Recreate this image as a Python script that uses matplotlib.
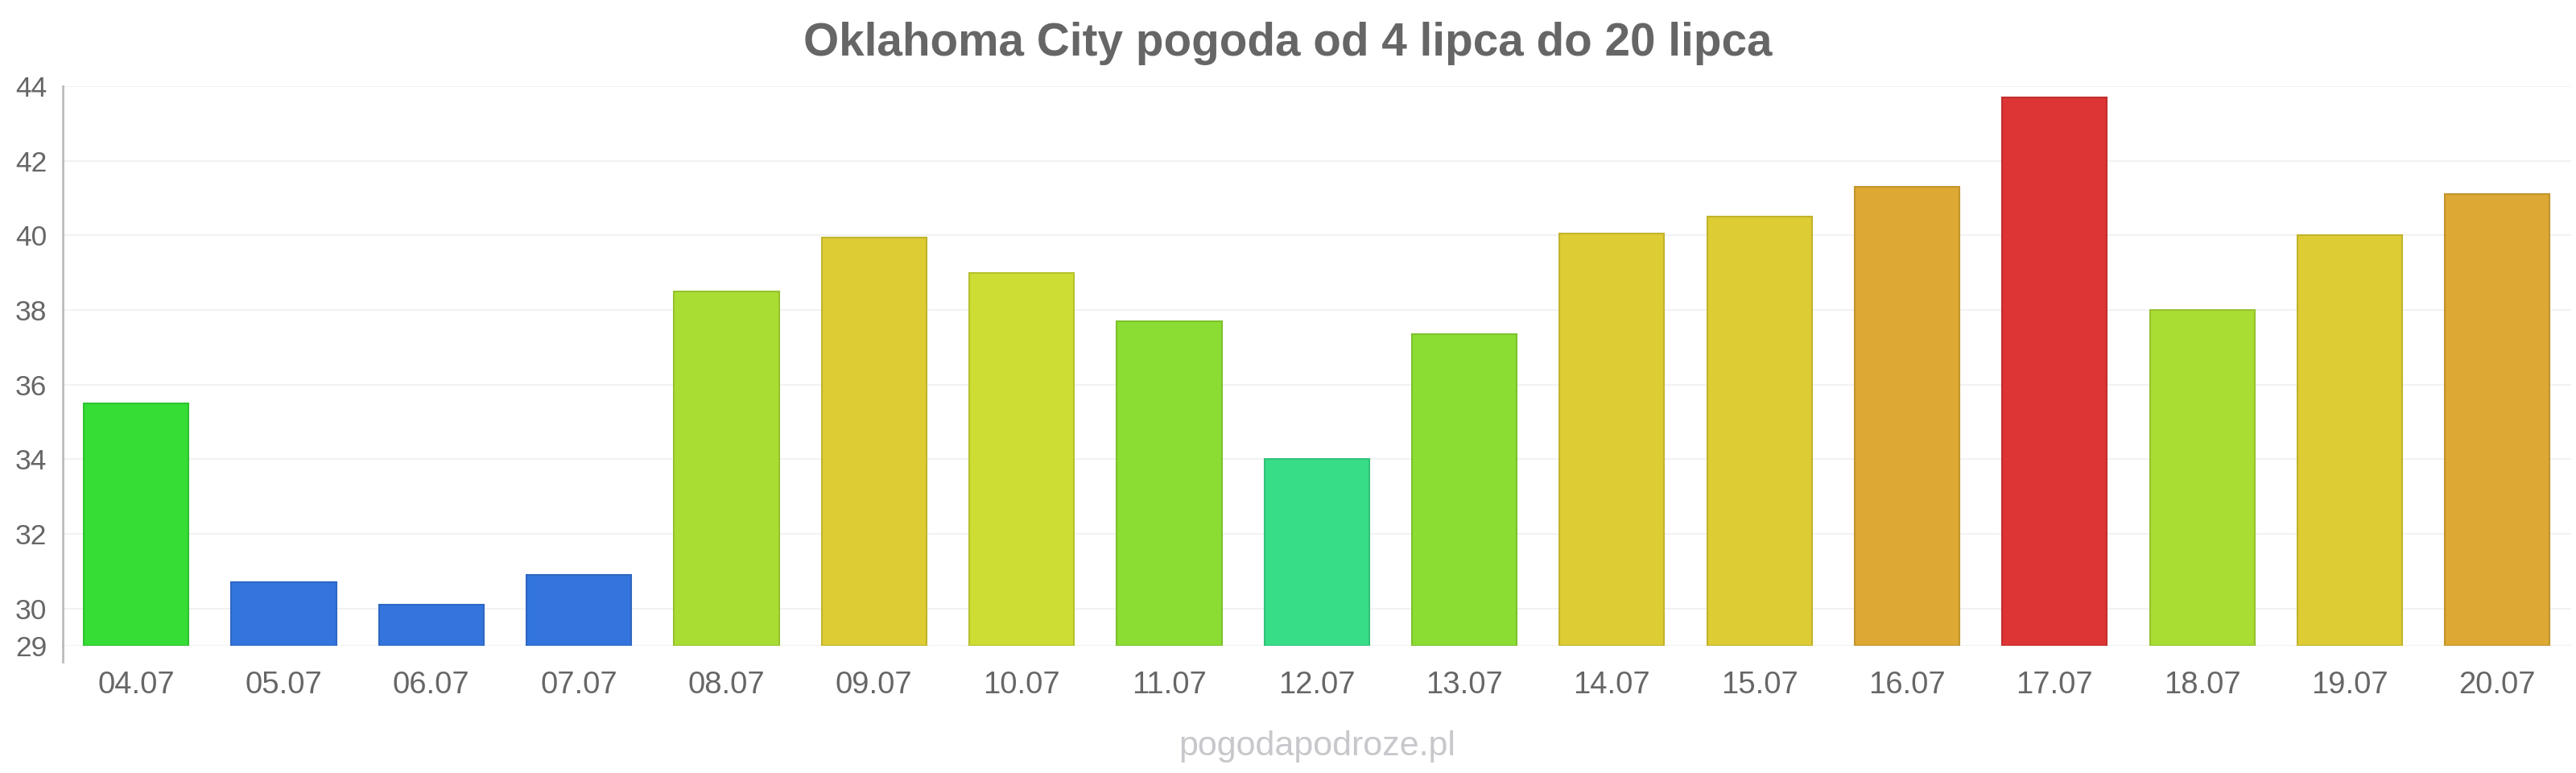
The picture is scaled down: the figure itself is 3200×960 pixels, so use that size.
import matplotlib
matplotlib.use("Agg")
import matplotlib.pyplot as plt
from matplotlib.colors import to_rgb
from matplotlib.lines import Line2D

plt.rcParams['font.family'] = ['Liberation Sans', 'DejaVu Sans']

dates = ["04.07", "05.07", "06.07", "07.07", "08.07", "09.07", "10.07", "11.07",
         "12.07", "13.07", "14.07", "15.07", "16.07", "17.07", "18.07", "19.07", "20.07"]
temps = [35.5, 30.7, 30.1, 30.9, 38.5, 39.95, 39.0, 37.7,
         34.0, 37.35, 40.05, 40.5, 41.3, 43.7, 38.0, 40.0, 41.1]
colors = ["#35dd35", "#3375dd", "#3375dd", "#3375dd", "#aadd33", "#ddcc33", "#cddd33", "#8cdd33",
          "#38dd88", "#8cdd33", "#ddcc33", "#ddcc33", "#dda833", "#dd3535", "#aadd33", "#ddcc33", "#dda833"]
yticks = [29, 30, 32, 34, 36, 38, 40, 42, 44]
title = "Oklahoma City pogoda od 4 lipca do 20 lipca"
watermark = "pogodapodroze.pl"

W, H = 3200, 960
fig = plt.figure(figsize=(W / 100, H / 100), dpi=100)
ax = fig.add_axes([77.5 / W, 1 - 802 / H, (3194 - 77.5) / W, (802 - 107) / H])

ymin = 29
edge = [tuple(max(0, c * 0.88) for c in to_rgb(col)) for col in colors]
x = list(range(len(dates)))
ax.bar(x, [t - ymin for t in temps], bottom=ymin, width=0.71, color=colors,
       edgecolor=edge, linewidth=1.5, zorder=3)

ax.set_xlim(-0.5, len(dates) - 0.5)
ax.set_ylim(29, 44)
ax.set_yticks(yticks)
ax.set_yticklabels([str(v) for v in yticks])
ax.set_xticks(x)
ax.set_xticklabels(dates)
ax.grid(axis='y', color='#f2f2f2', linewidth=1.5, zorder=0)
ax.tick_params(axis='y', length=0, pad=14, labelsize=25.5, labelcolor='#666666')
ax.tick_params(axis='x', length=0, pad=22, labelsize=27.5, labelcolor='#666666')
for s in ['top', 'right', 'bottom']:
    ax.spines[s].set_visible(False)
ax.spines['left'].set_color('#bbbbbb')
ax.spines['left'].set_linewidth(2)
ax.add_line(Line2D([0, 0], [0, -20 / 695], transform=ax.transAxes, color='#bbbbbb',
                   linewidth=2, clip_on=False))
ax.add_line(Line2D([0, 1], [0, 0], transform=ax.transAxes, color='#f2f2f2',
                   linewidth=1.5, zorder=1))

fig.text(0.5, 1 - 54 / H, title, ha='center', va='center', fontsize=40.8,
         fontweight='bold', color='#666666')
fig.text(1636 / W, 1 - 927 / H, watermark, ha='center', va='center', fontsize=31,
         color='#c8c8cc')

fig.savefig("out.png", dpi=100, facecolor='white')
